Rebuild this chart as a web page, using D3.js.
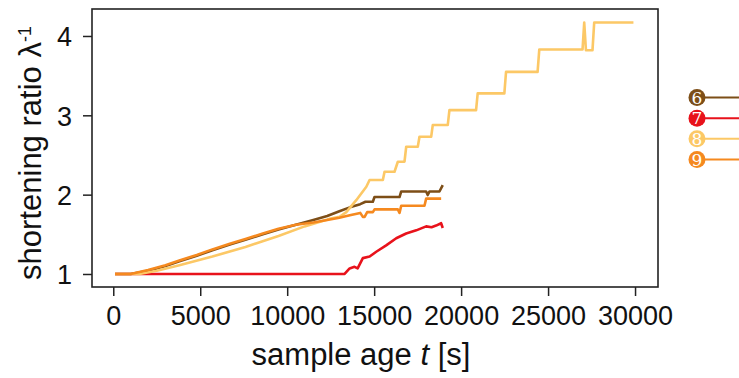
<!DOCTYPE html>
<html>
<head>
<meta charset="utf-8">
<script src="https://cdn.jsdelivr.net/npm/d3@7"></script>
<style>
  body { margin: 0; background: #fff; }
  svg { display: block; }
</style>
</head>
<body>
<svg id="chart" width="739" height="378"></svg>
<script>
// sample ids and colours
const sampleIds = ["6", "7", "8", "9"];
const sampleColors = ["#7d4e17", "#e8121b", "#fcc866", "#f5891f"];

// time [s] / shortening ratio
const t6 = [100, 1000, 2000, 3000, 3800, 4800, 5700, 6700, 7600, 8600, 9500, 10500, 11500, 12300, 13000, 13600, 14200, 14500, 14925, 15020, 16458, 16556, 17990, 18080, 18180, 18754, 18944];
const v6 = [1.0, 1.0, 1.04, 1.10, 1.16, 1.23, 1.30, 1.37, 1.43, 1.50, 1.56, 1.62, 1.68, 1.73, 1.79, 1.84, 1.88, 1.91, 1.91, 1.97, 1.97, 2.04, 2.04, 1.995, 2.04, 2.04, 2.12];

const t7 = [100, 13300, 13590, 13870, 14050, 14350, 14740, 15120, 15690, 16270, 16840, 17420, 17990, 18300, 18560, 18850, 18944];
const v7 = [1.0, 1.0, 1.07, 1.09, 1.07, 1.20, 1.22, 1.28, 1.36, 1.45, 1.51, 1.55, 1.60, 1.59, 1.61, 1.64, 1.58];

const t8 = [100, 1500, 2500, 3800, 5700, 7600, 9500, 11000, 12500, 13010, 13400, 13970, 14550, 14736, 15500, 15597, 16171, 16361, 16745, 16843, 17509, 17606, 18278, 18370, 19231, 19328, 20860, 20953, 22486, 22583, 24397, 24495, 26981, 27078, 27176, 27554, 27652, 29908];
const v8 = [1.0, 1.0, 1.04, 1.11, 1.22, 1.34, 1.48, 1.60, 1.70, 1.72, 1.78, 1.93, 2.10, 2.184, 2.184, 2.289, 2.289, 2.415, 2.415, 2.604, 2.604, 2.729, 2.729, 2.877, 2.877, 3.065, 3.065, 3.276, 3.276, 3.548, 3.548, 3.830, 3.830, 4.170, 3.821, 3.821, 4.170, 4.170];

const t9 = [100, 1000, 2000, 3000, 3800, 4800, 5700, 6700, 7600, 8600, 9500, 10500, 11500, 12300, 13000, 13600, 14200, 14350, 14450, 14600, 14925, 15023, 16360, 16458, 16556, 17893, 17990, 18852];
const v9 = [1.0, 1.0, 1.05, 1.11, 1.17, 1.24, 1.31, 1.38, 1.44, 1.51, 1.57, 1.62, 1.65, 1.68, 1.71, 1.74, 1.77, 1.72, 1.72, 1.78, 1.78, 1.815, 1.815, 1.77, 1.86, 1.86, 1.95, 1.95];

const xTicks = [0, 5000, 10000, 15000, 20000, 25000, 30000];
const yTicks = [1, 2, 3, 4];

const seriesT = [t6, t7, t8, t9];
const seriesV = [v6, v7, v8, v9];

const svg = d3.select("#chart");
const plotL = 92, plotR = 658, plotT = 9, plotB = 287;

const x = d3.scaleLinear().domain([-1223, 31320]).range([plotL, plotR]);
const y = d3.scaleLinear().domain([0.836, 4.34]).range([plotB, plotT]);

// lines, drawn 6 -> 9 so 9 ends up on top
const line = d3.line()
  .x(d => x(d[0]))
  .y(d => y(d[1]));

seriesT.forEach((ts, i) => {
  svg.append("path")
    .datum(ts.map((t, j) => [t, seriesV[i][j]]))
    .attr("fill", "none")
    .attr("stroke", sampleColors[i])
    .attr("stroke-width", 2.6)
    .attr("stroke-linejoin", "round")
    .attr("d", line);
});

// axes
const xAxis = svg.append("g")
  .attr("transform", `translate(0,${plotB})`)
  .call(d3.axisBottom(x).tickValues(xTicks).tickFormat(d3.format("d")).tickSize(9).tickSizeOuter(0));
xAxis.select(".domain").remove();
xAxis.selectAll("line").attr("stroke", "#222").attr("stroke-width", 1.5);
xAxis.selectAll("text")
  .attr("y", 38).attr("dy", 0)
  .attr("fill", "#111")
  .style("font-family", "'Liberation Sans', Arial, sans-serif")
  .style("font-size", "27px");

const yAxis = svg.append("g")
  .attr("transform", `translate(${plotL},0)`)
  .call(d3.axisLeft(y).tickValues(yTicks).tickFormat(d3.format("d")).tickSize(9).tickSizeOuter(0));
yAxis.select(".domain").remove();
yAxis.selectAll("line").attr("stroke", "#222").attr("stroke-width", 1.5);
yAxis.selectAll("text")
  .attr("x", -20).attr("dy", "0.36em")
  .attr("fill", "#111")
  .style("font-family", "'Liberation Sans', Arial, sans-serif")
  .style("font-size", "27px");

// frame
svg.append("rect")
  .attr("x", plotL).attr("y", plotT)
  .attr("width", plotR - plotL).attr("height", plotB - plotT)
  .attr("fill", "none")
  .attr("stroke", "#222")
  .attr("stroke-width", 1.6);

// axis titles
svg.append("text")
  .attr("x", 361).attr("y", 365)
  .attr("text-anchor", "middle")
  .attr("fill", "#111")
  .style("font-family", "'Liberation Sans', Arial, sans-serif")
  .style("font-size", "31px")
  .html('sample age <tspan font-style="italic">t</tspan> [s]');

const yLab = svg.append("text")
  .attr("transform", "translate(41,153) rotate(-90)")
  .attr("text-anchor", "middle")
  .attr("fill", "#111")
  .style("font-family", "'Liberation Sans', Arial, sans-serif")
  .style("font-size", "31px");
yLab.append("tspan").text("shortening ratio \u03BB");
yLab.append("tspan").attr("dy", "-0.55em").style("font-size", "18px").text("-1");

// legend on the right
const legY = d3.scalePoint().domain(sampleIds).range([97.5, 159.5]);
const leg = svg.append("g").selectAll("g")
  .data(sampleIds)
  .enter().append("g")
  .attr("transform", d => `translate(697,${legY(d)})`);
leg.append("line")
  .attr("x1", 0).attr("x2", 50)
  .attr("stroke", (d, i) => sampleColors[i])
  .attr("stroke-width", 2);
leg.append("circle")
  .attr("r", 8.5)
  .attr("fill", (d, i) => sampleColors[i]);
leg.append("text")
  .attr("text-anchor", "middle")
  .attr("dy", "0.36em")
  .attr("fill", "#fff")
  .style("font-family", "'DejaVu Serif', 'Liberation Serif', serif")
  .style("font-size", "17px")
  .text(d => d);
</script>
</body>
</html>
